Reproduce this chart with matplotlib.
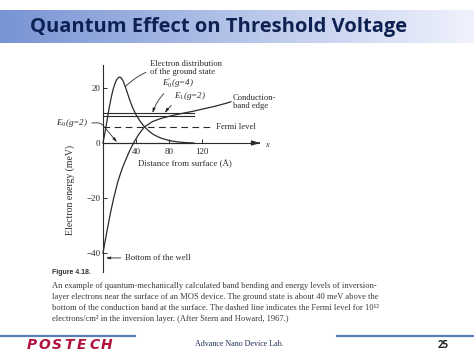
import numpy as np
import matplotlib
matplotlib.use("Agg")
from matplotlib import pyplot as plt

plt.rcParams["mathtext.fontset"] = "custom"
plt.rcParams["mathtext.rm"] = "Liberation Serif"
plt.rcParams["mathtext.it"] = "Liberation Serif:italic"

W, H = 474, 355

# data (distance in Angstrom, energy in meV)
dist_x = [0, 2, 4, 6, 8, 10, 12, 14, 16, 18, 20, 22, 24, 26, 28, 30, 33, 36, 40,
          45, 50, 55, 60, 65, 70, 80, 90, 100, 110]
dist_y = [0, 3.2, 6.6, 10.2, 13.6, 16.6, 19.2, 21.2, 22.7, 23.6, 24.0, 23.7,
          22.8, 21.3, 19.6, 17.8, 15.1, 12.8, 10.3, 7.9, 6.0, 4.5, 3.3, 2.5,
          1.8, 0.9, 0.4, 0.15, 0.0]
cb_x = [0, 3, 5.5, 9, 13, 18, 23, 27, 32, 37, 43, 50, 60, 70, 80, 90, 100, 110,
        120, 135, 150, 155]
cb_y = [-40, -35, -31, -25.5, -20, -14, -9.5, -6.5, -3, 0, 3, 5.8, 7.8, 8.9,
        9.7, 10.4, 11.0, 11.6, 12.3, 13.3, 14.5, 15.0]
level_e0p = 10.9
level_e1 = 9.9
level_e0 = 0.0
level_end = 110
fermi = 5.8
fermi_end = 130
xticks = [40, 80, 120]
yticks = [-40, -20, 0, 20]

caption = [
    "An example of quantum-mechanically calculated band bending and energy levels of inversion-",
    "layer electrons near the surface of an MOS device. The ground state is about 40 meV above the",
    "bottom of the conduction band at the surface. The dashed line indicates the Fermi level for 10\u00b9\u00b2",
    "electrons/cm\u00b2 in the inversion layer. (After Stern and Howard, 1967.)",
]

ink = "#2b2b2b"
serif = "Liberation Serif"


def fx(px):
    return px / W


def fy(py):
    return 1 - py / H


fig = plt.figure(figsize=(W / 100, H / 100), dpi=100)
fig.patch.set_facecolor("white")

# title bar with gradient
bar = fig.add_axes([0, fy(43), 1, 33 / H])
left = np.array([0.47, 0.58, 0.83])
right = np.array([0.94, 0.95, 0.99])
t = np.linspace(0, 1, 256)[None, :, None]
bar.imshow(left + (right - left) * t, aspect="auto", extent=(0, 1, 0, 1))
bar.axis("off")
fig.text(fx(30), fy(27), "Quantum Effect on Threshold Voltage", fontsize=14.5,
         fontweight="bold", family="Open Sans", color="#0e2152", va="center")

# chart axes, pixel frame mapped to data units
x0px, y0px = 103, 143
px_per_a, px_per_mev = 33 / 40, 2.75
left_px, right_px, top_px, bot_px = 103, 265, 62, 275
ax = fig.add_axes([fx(left_px), fy(bot_px), (right_px - left_px) / W, (bot_px - top_px) / H])
ax.set_xlim(0, (right_px - x0px) / px_per_a)
ax.set_ylim((y0px - bot_px) / px_per_mev, (y0px - top_px) / px_per_mev)
ax.patch.set_alpha(0)

for s in ["top", "right"]:
    ax.spines[s].set_visible(False)
ax.spines["left"].set_position("zero")
ax.spines["bottom"].set_position("zero")
ax.spines["left"].set_bounds(-47, 28.5)
ax.spines["bottom"].set_bounds(0, 188)
for s in ["left", "bottom"]:
    ax.spines[s].set_color(ink)
    ax.spines[s].set_linewidth(0.8)
ax.annotate("", xy=(194, 0), xytext=(186, 0),
            arrowprops=dict(arrowstyle="-|>,head_length=0.5,head_width=0.15",
                            color=ink, lw=0.8), annotation_clip=False)
ax.text(196, -0.8, "x", fontsize=6, style="italic", family=serif, color=ink,
        va="center", ha="left")

ax.set_xticks(xticks)
ax.set_xticklabels([str(v) for v in xticks])
ax.set_yticks(yticks)
ax.set_yticklabels([f"{v}".replace("-", "\u2212") for v in yticks])
ax.tick_params(axis="x", direction="in", length=3, width=0.7, colors=ink,
               labelsize=6.5, pad=3.5)
ax.tick_params(axis="y", direction="in", length=3, width=0.7, colors=ink,
               labelsize=6.5, pad=2)
for lab in ax.get_xticklabels() + ax.get_yticklabels():
    lab.set_family(serif)

ax.text(99, -7.8, "Distance from surface (\u00c5)", fontsize=6.4, family=serif,
        color=ink, ha="center", va="center")
ax.text(-40, -17, "Electron energy (meV)", fontsize=7, family=serif, color=ink,
        rotation=90, ha="center", va="center", clip_on=False)

# energy levels and curves
ax.plot([0, level_end], [level_e0p, level_e0p], color=ink, lw=0.8, clip_on=False)
ax.plot([0, level_end], [level_e1, level_e1], color=ink, lw=0.8, clip_on=False)
ax.plot([0, level_end], [level_e0, level_e0], color=ink, lw=0.8, clip_on=False)
ax.plot([0, fermi_end], [fermi, fermi], color=ink, lw=0.8, dashes=(6, 4))
ax.plot(dist_x, dist_y, color=ink, lw=0.9, clip_on=False)
ax.plot(cb_x, cb_y, color=ink, lw=0.9, clip_on=False)

# annotations
fs = 6.2
mfs = 6.6
arrow = dict(arrowstyle="-|>,head_length=0.4,head_width=0.12", color=ink, lw=0.6)
ax.annotate("Electron distribution\nof the ground state", xy=(27, 20.5),
            xytext=(57, 27.4), fontsize=fs, family=serif, color=ink,
            va="center", ha="left", linespacing=1.0, annotation_clip=False,
            arrowprops=dict(arrowstyle="-", color=ink, lw=0.6,
                            connectionstyle="arc3,rad=0.25", shrinkA=1, shrinkB=0))
ax.annotate("$E_0'$(g=4)", xy=(60, level_e0p), xytext=(71, 21.8), fontsize=mfs,
            family=serif, style="italic", color=ink, va="center", ha="left",
            annotation_clip=False,
            arrowprops=dict(arrow, connectionstyle="arc3,rad=0.2", shrinkA=1, shrinkB=0))
ax.annotate("$E_1$(g=2)", xy=(75, level_e0p), xytext=(86, 17.2), fontsize=mfs,
            family=serif, style="italic", color=ink, va="center", ha="left",
            annotation_clip=False,
            arrowprops=dict(arrow, connectionstyle="arc3,rad=0.2", shrinkA=1, shrinkB=0))
ax.annotate("$E_0$(g=2)", xy=(17, 0.3), xytext=(-18.5, 7.3), fontsize=mfs,
            family=serif, style="italic", color=ink, va="center", ha="right",
            annotation_clip=False,
            arrowprops=dict(arrow, connectionstyle="angle,angleA=0,angleB=130,rad=3",
                            shrinkA=1, shrinkB=0))
ax.text(137, fermi, "Fermi level", fontsize=fs, family=serif, color=ink,
        va="center", ha="left", clip_on=False)
ax.text(157, 14.8, "Conduction-\nband edge", fontsize=fs, family=serif, color=ink,
        va="center", ha="left", linespacing=1.0, clip_on=False)
ax.annotate("Bottom of the well", xy=(3.5, -41.8), xytext=(26.5, -41.8), fontsize=fs,
            family=serif, color=ink, va="center", ha="left", annotation_clip=False,
            arrowprops=dict(arrow, shrinkA=1, shrinkB=0))

# caption
fig.text(fx(52), fy(272), "Figure 4.18.", fontsize=5, fontweight="bold",
         family="Liberation Sans", color="#333333", va="center")
for i, line in enumerate(caption):
    fig.text(fx(52), fy(286 + 11 * i), line, fontsize=6.1, family=serif,
             color="#3a3a3a", va="center")

# footer
fig.add_artist(plt.Line2D([0, fx(135)], [fy(336), fy(336)], color="#5a7fb8", lw=1.6))
fig.add_artist(plt.Line2D([fx(337), 1], [fy(336), fy(336)], color="#5a7fb8", lw=1.6))
for i, ch in enumerate("POSTECH"):
    fig.text(fx(31.3 + 12.6 * i), fy(345), ch, fontsize=10, fontweight="bold",
             style="italic", family="DejaVu Sans", color="#b0123c", va="center",
             ha="center")
fig.text(fx(195), fy(344), "Advance Nano Device Lab.", fontsize=5.8, family=serif,
         color="#1f2f5a", va="center")
fig.text(fx(438), fy(345), "25", fontsize=7, fontweight="bold", family="Open Sans",
         color="#222222", va="center")

fig.savefig("out.png", dpi=100)
